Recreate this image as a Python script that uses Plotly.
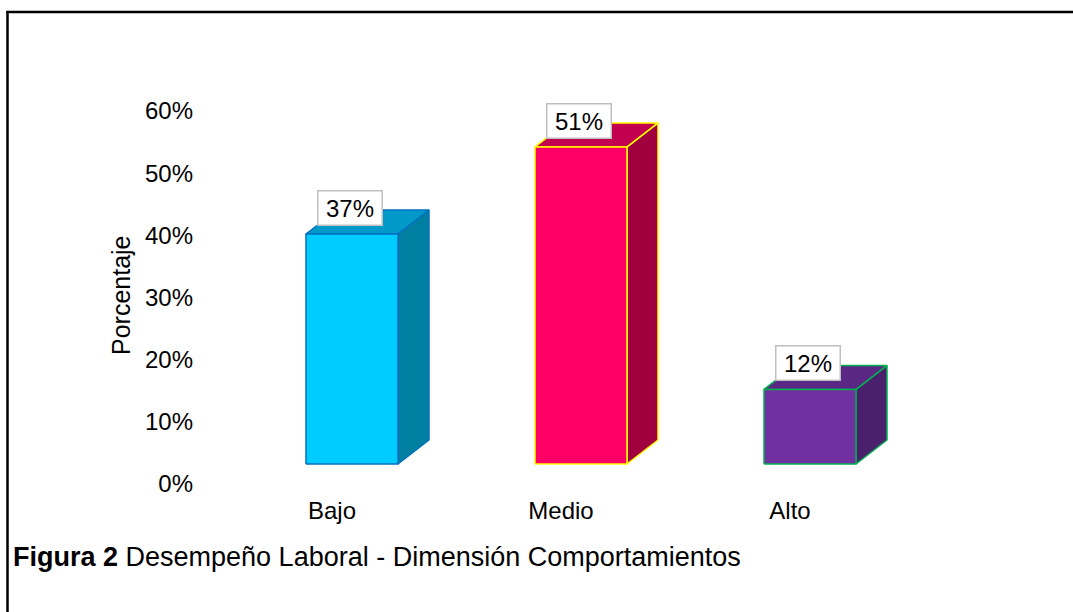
import plotly.graph_objects as go

# ---- data ----
categories = ["Bajo", "Medio", "Alto"]
values = [37, 51, 12]          # percent
value_labels = ["37%", "51%", "12%"]
tick_vals = [0, 10, 20, 30, 40, 50, 60]
tick_text = ["0%", "10%", "20%", "30%", "40%", "50%", "60%"]
front_colors = ["#00CCFF", "#FF0066", "#7030A0"]
top_colors = ["#0099C8", "#C2004F", "#5A2785"]
side_colors = ["#007FA0", "#A1003F", "#4A1F6B"]
edge_colors = ["#0070C0", "#FFFF00", "#00B050"]

# ---- geometry (3D look) ----
W, H = 1073, 612
ML, MR, MT, MB = 200, 73, 100, 128
px_per_cat = 229.0
px_per_pct = 373.0 / 60.0
x0 = -(352 - ML) / px_per_cat
x1 = x0 + (W - ML - MR) / px_per_cat
y1 = (484 - MT) / px_per_pct
half_w = 46 / px_per_cat
ddx = 31 / px_per_cat
ddy = 24 / px_per_pct
base = 20 / px_per_pct

FONT = "Liberation Sans, Arial"

fig = go.Figure()
for i, (cat, v) in enumerate(zip(categories, values)):
    xl, xr = i - half_w, i + half_w
    yb, yt = base, base + v
    line = dict(color=edge_colors[i], width=1.5)
    # side face
    fig.add_trace(go.Scatter(
        x=[xr, xr + ddx, xr + ddx, xr, xr],
        y=[yb, yb + ddy, yt + ddy, yt, yb],
        fill="toself", fillcolor=side_colors[i], mode="lines", line=line,
        hoverinfo="skip", showlegend=False))
    # top face
    fig.add_trace(go.Scatter(
        x=[xl, xr, xr + ddx, xl + ddx, xl],
        y=[yt, yt, yt + ddy, yt + ddy, yt],
        fill="toself", fillcolor=top_colors[i], mode="lines", line=line,
        hoverinfo="skip", showlegend=False))
    # front face
    fig.add_trace(go.Scatter(
        x=[xl, xr, xr, xl, xl],
        y=[yb, yb, yt, yt, yb],
        fill="toself", fillcolor=front_colors[i], mode="lines", line=line,
        name=cat, hoverinfo="name", showlegend=False))
    fig.add_annotation(
        x=i, y=yt, xref="x", yref="y", text=value_labels[i],
        showarrow=False, yanchor="bottom", yshift=8, xshift=-2,
        font=dict(family=FONT, size=24, color="#000000"),
        bgcolor="#FFFFFF", bordercolor="#BFBFBF", borderwidth=1.5,
        borderpad=2, width=59, height=29)

def px_to_paper_x(px):
    return (px - ML) / (W - ML - MR)

def px_to_paper_y(py):
    return (H - MB - py) / (H - MT - MB)

# axis title
fig.add_annotation(
    x=px_to_paper_x(121), y=px_to_paper_y(295), xref="paper", yref="paper",
    text="Porcentaje", textangle=-90, showarrow=False,
    xanchor="center", yanchor="middle",
    font=dict(family=FONT, size=25, color="#000000"))

# figure caption
fig.add_annotation(
    x=px_to_paper_x(11), y=px_to_paper_y(557), xref="paper", yref="paper",
    text="<b>Figura 2</b> Desempeño Laboral - Dimensión Comportamientos",
    showarrow=False, xanchor="left", yanchor="middle",
    font=dict(family=FONT, size=27, color="#000000"))

# frame lines (left and top)
fig.add_shape(type="line", xref="paper", yref="paper",
              x0=px_to_paper_x(7.5), x1=px_to_paper_x(7.5),
              y0=px_to_paper_y(11), y1=px_to_paper_y(615),
              line=dict(color="#000000", width=2.5))
fig.add_shape(type="line", xref="paper", yref="paper",
              x0=px_to_paper_x(6.3), x1=px_to_paper_x(1080),
              y0=px_to_paper_y(12), y1=px_to_paper_y(12),
              line=dict(color="#000000", width=2.5))

fig.update_layout(
    width=W, height=H,
    margin=dict(l=ML, r=MR, t=MT, b=MB),
    paper_bgcolor="#FFFFFF", plot_bgcolor="#FFFFFF",
    font=dict(family=FONT, size=24, color="#000000"),
    xaxis=dict(range=[x0, x1], tickmode="array", tickvals=[0, 1, 2],
               ticktext=categories, showgrid=False, zeroline=False,
               showline=False, ticks="", ticklabelshift=-20,
               ticklabelstandoff=10, fixedrange=True),
    yaxis=dict(range=[0, y1], tickmode="array", tickvals=tick_vals,
               ticktext=tick_text, showgrid=False, zeroline=False,
               showline=False, ticks="", ticklabelstandoff=6,
               fixedrange=True),
)

fig.write_html("out.html")
